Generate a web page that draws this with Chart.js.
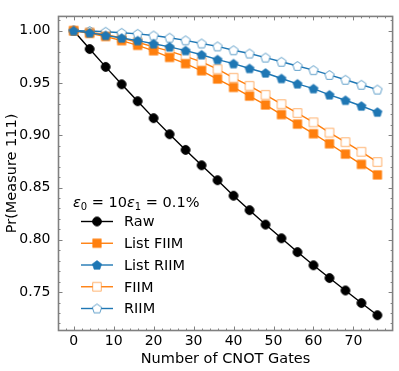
<!DOCTYPE html>
<html>
<head>
<meta charset="utf-8">
<script src="https://cdn.jsdelivr.net/npm/chart.js@4.4.0/dist/chart.umd.min.js"></script>
<style>
  html, body { margin: 0; padding: 0; background: #fff; }
  canvas { display: block; }
</style>
</head>
<body>
<canvas id="chart" width="399" height="371"></canvas>
<script>
// Number of CNOT gates (x values)
const gates = [0, 4, 8, 12, 16, 20, 24, 28, 32, 36, 40, 44, 48, 52, 56, 60, 64, 68, 72, 76];

// Pr(Measure 111) for each method
const raw      = [1.000, 0.9825, 0.9654, 0.9488, 0.9326, 0.9164, 0.9010, 0.8860, 0.8713, 0.8570, 0.8422, 0.8284, 0.8146, 0.8015, 0.7883, 0.7757, 0.7635, 0.7516, 0.7396, 0.7279];
const listFIIM = [1.000, 0.9975, 0.9945, 0.9905, 0.9860, 0.9808, 0.9745, 0.9685, 0.9617, 0.9538, 0.9458, 0.9375, 0.9290, 0.9198, 0.9107, 0.9015, 0.8919, 0.8820, 0.8722, 0.8621];
const listRIIM = [1.000, 0.9980, 0.9955, 0.9930, 0.9905, 0.9875, 0.9845, 0.9810, 0.9770, 0.9724, 0.9685, 0.9639, 0.9596, 0.9543, 0.9492, 0.9446, 0.9387, 0.9335, 0.9280, 0.9222];
const fiim     = [1.000, 0.9985, 0.9962, 0.9930, 0.9890, 0.9845, 0.9805, 0.9755, 0.9703, 0.9632, 0.9550, 0.9473, 0.9387, 0.9298, 0.9213, 0.9124, 0.9026, 0.8934, 0.8842, 0.8744];
const riim     = [1.000, 0.9997, 0.9990, 0.9980, 0.9970, 0.9954, 0.9933, 0.9908, 0.9878, 0.9850, 0.9813, 0.9782, 0.9743, 0.9703, 0.9663, 0.9623, 0.9577, 0.9531, 0.9483, 0.9437];

const xTicks = [0, 10, 20, 30, 40, 50, 60, 70];
const yTicks = [0.75, 0.80, 0.85, 0.90, 0.95, 1.00];

const ORANGE = '#ff7f0e';
const BLUE = '#1f77b4';
const FONT = 'DejaVu Sans';

// Build a small canvas with one marker on it (used for points and legend)
function makeMarker(shape, fill, stroke) {
    const size = 14;
    const c = document.createElement('canvas');
    c.width = size;
    c.height = size;
    const ctx = c.getContext('2d');
    const cx = size / 2, cy = size / 2;
    ctx.beginPath();
    if (shape === 'circle') {
        ctx.arc(cx, cy, 4.4, 0, Math.PI * 2);
    } else if (shape === 'square') {
        ctx.rect(cx - 4.3, cy - 4.3, 8.6, 8.6);
    } else if (shape === 'pentagon') {
        const r = 4.9;
        for (let i = 0; i < 5; i++) {
            const a = -Math.PI / 2 + i * 2 * Math.PI / 5;
            const px = cx + r * Math.cos(a);
            const py = cy + 0.4 + r * Math.sin(a);
            if (i === 0) ctx.moveTo(px, py); else ctx.lineTo(px, py);
        }
        ctx.closePath();
    }
    ctx.fillStyle = fill;
    ctx.fill();
    ctx.lineWidth = 1;
    ctx.strokeStyle = stroke;
    ctx.stroke();
    return c;
}

const markers = {
    raw: makeMarker('circle', '#000', '#000'),
    listFIIM: makeMarker('square', ORANGE, 'rgba(255,127,14,0.55)'),
    listRIIM: makeMarker('pentagon', BLUE, 'rgba(31,119,180,0.55)'),
    fiim: makeMarker('square', '#fff', 'rgba(255,127,14,0.6)'),
    riim: makeMarker('pentagon', '#fff', 'rgba(31,119,180,0.7)')
};

function series(values) {
    return values.map((v, i) => ({ x: gates[i], y: v }));
}

const legendItems = [
    { label: 'Raw', color: '#000', marker: markers.raw },
    { label: 'List FIIM', color: ORANGE, marker: markers.listFIIM },
    { label: 'List RIIM', color: BLUE, marker: markers.listRIIM },
    { label: 'FIIM', color: ORANGE, marker: markers.fiim },
    { label: 'RIIM', color: BLUE, marker: markers.riim }
];

// Frame with inward major/minor ticks on all four sides
const framePlugin = {
    id: 'frame',
    afterDatasetsDraw(chart) {
        const { ctx, chartArea: a, scales: { x, y } } = chart;
        ctx.save();
        ctx.strokeStyle = '#808080';
        ctx.lineWidth = 1;
        const tick = (x1, y1, x2, y2) => {
            ctx.beginPath();
            ctx.moveTo(x1, y1);
            ctx.lineTo(x2, y2);
            ctx.stroke();
        };
        // x ticks
        for (let v = -2; v <= 78; v += 2) {
            const px = Math.round(x.getPixelForValue(v)) + 0.5;
            const len = v % 10 === 0 ? 4 : 2;
            tick(px, a.bottom, px, a.bottom - len);
            tick(px, a.top, px, a.top + len);
        }
        // y ticks
        for (let k = 72; k <= 101; k++) {
            const py = Math.round(y.getPixelForValue(k / 100)) + 0.5;
            const len = k % 5 === 0 ? 4 : 2;
            tick(a.left, py, a.left + len, py);
            tick(a.right, py, a.right - len, py);
        }
        ctx.lineWidth = 1.6;
        ctx.strokeRect(a.left, a.top, a.right - a.left, a.bottom - a.top);
        ctx.restore();
    }
};

// Legend drawn inside the plot area, with a math-style title
const legendPlugin = {
    id: 'insideLegend',
    afterDraw(chart) {
        const ctx = chart.ctx;
        ctx.save();
        ctx.textBaseline = 'alphabetic';
        ctx.fillStyle = '#000';
        // title: ε0 = 10ε1 = 0.1%
        let tx = 73;
        const ty = 207;
        const parts = [
            { t: 'ε', f: 'italic 14.5px ' + FONT, dy: 0 },
            { t: '0', f: '10px ' + FONT, dy: 3 },
            { t: ' = 10', f: '14.5px ' + FONT, dy: 0 },
            { t: 'ε', f: 'italic 14.5px ' + FONT, dy: 0 },
            { t: '1', f: '10px ' + FONT, dy: 3 },
            { t: ' = 0.1%', f: '14.5px ' + FONT, dy: 0 }
        ];
        parts.forEach(p => {
            ctx.font = p.f;
            ctx.fillText(p.t, tx, ty + p.dy);
            tx += ctx.measureText(p.t).width;
        });
        ctx.font = '14.5px ' + FONT;
        ctx.textBaseline = 'middle';
        legendItems.forEach((item, i) => {
            const cy = 221.5 + i * 21.75;
            ctx.strokeStyle = item.color;
            ctx.lineWidth = 1.4;
            ctx.beginPath();
            ctx.moveTo(81, cy);
            ctx.lineTo(113, cy);
            ctx.stroke();
            ctx.drawImage(item.marker, 97 - 7, cy - 7);
            ctx.fillText(item.label, 124, cy + 1);
        });
        ctx.restore();
    }
};

function makeDataset(values, color, marker, order) {
    return {
        data: series(values),
        borderColor: color,
        borderWidth: 1.4,
        pointStyle: marker,
        pointRadius: 5,
        pointHoverRadius: 5,
        tension: 0,
        order: order
    };
}

const tickFont = { family: FONT, size: 14 };
const titleFont = { family: FONT, size: 14.5 };

new Chart(document.getElementById('chart'), {
    type: 'line',
    data: {
        datasets: [
            makeDataset(raw, '#000', markers.raw, 4),
            makeDataset(listFIIM, ORANGE, markers.listFIIM, 1),
            makeDataset(listRIIM, BLUE, markers.listRIIM, 0),
            makeDataset(fiim, ORANGE, markers.fiim, 3),
            makeDataset(riim, BLUE, markers.riim, 2)
        ]
    },
    options: {
        responsive: false,
        animation: false,
        devicePixelRatio: 1,
        layout: { padding: { top: 5, right: 6, left: 0, bottom: 0 } },
        plugins: {
            legend: { display: false },
            tooltip: { enabled: false }
        },
        scales: {
            x: {
                type: 'linear',
                min: -3.8,
                max: 79.8,
                afterBuildTicks: s => { s.ticks = xTicks.map(v => ({ value: v })); },
                afterFit: s => { s.height = 40.5; },
                grid: { display: false, drawTicks: false },
                border: { display: false },
                ticks: { font: tickFont, color: '#000', padding: 2, maxRotation: 0, autoSkip: false, callback: v => String(v) },
                title: { display: true, text: 'Number of CNOT Gates', font: titleFont, color: '#000', padding: { top: 0, bottom: 3 } }
            },
            y: {
                type: 'linear',
                min: 0.7133,
                max: 1.0137,
                afterBuildTicks: s => { s.ticks = yTicks.map(v => ({ value: v })); },
                afterFit: s => { s.width = 58.5; },
                grid: { display: false, drawTicks: false },
                border: { display: false },
                ticks: { font: tickFont, color: '#000', padding: 8, autoSkip: false, callback: v => v.toFixed(2) },
                title: { display: true, text: 'Pr(Measure 111)', font: titleFont, color: '#000', padding: { top: 3.5, bottom: 0 } }
            }
        }
    },
    plugins: [framePlugin, legendPlugin]
});
</script>
</body>
</html>
